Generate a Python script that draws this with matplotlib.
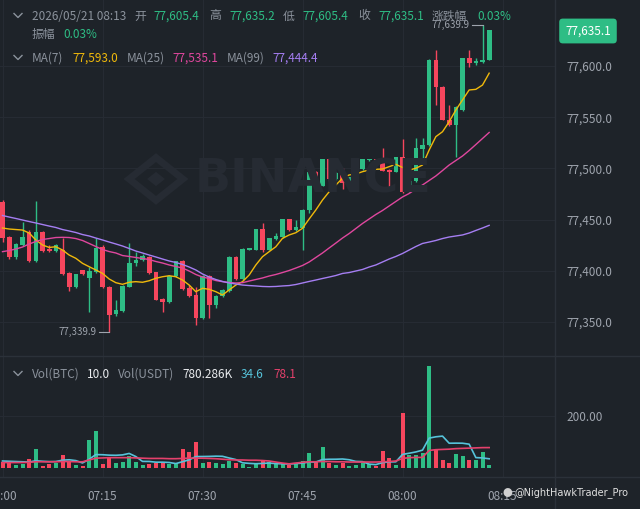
import numpy as np
import matplotlib.pyplot as plt
from matplotlib.lines import Line2D
from matplotlib.patches import RegularPolygon

plt.rcParams['font.family'] = ['Noto Sans CJK SC', 'DejaVu Sans']

# 1-minute candles, 07:00 .. 08:13
opens = [77467, 77433, 77413.5, 77425, 77438, 77410, 77438, 77421, 77419, 77420,
         77398, 77384, 77400.5, 77393, 77398.5, 77423.5, 77384, 77357.5, 77361, 77384.5,
         77408, 77411, 77413, 77398.5, 77372.5, 77370, 77395, 77409.6, 77383, 77376.4,
         77353.6, 77395, 77366.6, 77375, 77380, 77413, 77392, 77420.3, 77420.3, 77440.5,
         77420.3, 77431, 77433, 77450.3, 77439.8, 77441.5, 77459, 77496.8, 77483, 77509,
         77489.6, 77495.8, 77485.4, 77491, 77499, 77508, 77509, 77505, 77498.4, 77496.8,
         77510.8, 77477.2, 77487.7, 77518.7, 77522.9, 77605.9, 77579.8, 77547.3, 77542.4, 77557,
         77607.5, 77603.3, 77604, 77605.4]
highs = [77469, 77434, 77427, 77448, 77440, 77468, 77439, 77425, 77426, 77432,
         77399, 77397, 77401, 77404, 77432, 77425, 77385, 77371, 77386, 77427,
         77418, 77416, 77414, 77399, 77373, 77396, 77410, 77411, 77386, 77384.5,
         77396, 77396, 77376, 77382, 77414, 77414, 77422, 77422, 77441, 77447,
         77432, 77437, 77451, 77451, 77449.6, 77460, 77497.5, 77497, 77509.5, 77509.5,
         77496, 77500, 77491.5, 77500.5, 77509.5, 77509.5, 77509.5, 77519.6, 77499, 77511,
         77528.4, 77488, 77529.4, 77529.4, 77606.5, 77615.3, 77580.5, 77561.9, 77561, 77608,
         77615.6, 77607.5, 77639.9, 77635.2]
lows = [77428, 77412, 77412, 77424, 77409, 77409, 77418, 77418, 77418, 77396,
        77380, 77383, 77396, 77360, 77398, 77383, 77339.9, 77356, 77360, 77384,
        77405, 77410, 77397, 77371, 77359.5, 77369, 77394, 77381, 77374, 77347,
        77353, 77353.6, 77363.4, 77374, 77379, 77391, 77391, 77420, 77420, 77418.7,
        77420, 77430.5, 77432.5, 77439, 77439, 77420.3, 77456, 77482.5, 77482.5, 77488,
        77489, 77479.9, 77485, 77486, 77498.5, 77507.5, 77503.5, 77497, 77480.6, 77496,
        77476, 77476.5, 77487, 77508.2, 77522, 77561.9, 77547, 77541, 77511.4, 77556,
        77598.7, 77601, 77603, 77605.4]
closes = [77432, 77413, 77426, 77433, 77410, 77438, 77419, 77419, 77425, 77397,
          77384, 77397, 77397, 77400, 77422, 77384, 77357, 77362, 77385, 77408,
          77411, 77414, 77397.5, 77371.5, 77370, 77395, 77409.6, 77382, 77375.4, 77353.6,
          77395, 77366.6, 77375.4, 77381.3, 77413, 77392, 77421, 77421.8, 77440.5, 77420.3,
          77431.7, 77434, 77450.3, 77439.8, 77443, 77459.4, 77496.8, 77483, 77509, 77489.6,
          77495.8, 77485.4, 77491.3, 77500, 77509, 77509, 77504, 77497.8, 77496.8, 77510.8,
          77477.2, 77487.7, 77520.2, 77522.9, 77605.9, 77579.8, 77547.3, 77542.4, 77560.3, 77607.5,
          77602.6, 77604.9, 77605.4, 77635.1]

ma7 = [77441.8, 77440.8, 77440.3, 77439.8, 77436.9, 77430.1, 77425.2, 77422.8, 77423.5, 77420.3,
       77415.4, 77412.2, 77407.3, 77404.0, 77400.8, 77397.5, 77392.0, 77388.4, 77386.8, 77388.8,
       77389.4, 77388.8, 77390.3, 77392.7, 77394.2, 77395.2, 77394.2, 77391.0, 77386.1, 77379.6,
       77382.9, 77381.9, 77379.6, 77376.4, 77381.3, 77386.1, 77389.4, 77395.9, 77405.7, 77413.8,
       77418.7, 77423.5, 77431.7, 77435.0, 77437.2, 77441.5, 77450.6, 77459.4, 77469.1, 77477.2,
       77483.8, 77490.3, 77493.6, 77494.5, 77496.8, 77498.4, 77499.1, 77499.4, 77501.7, 77504.0,
       77500.9, 77498.4, 77500.1, 77503.3, 77518.0, 77531.0, 77535.8, 77545.6, 77557.0, 77566.8,
       77576.6, 77577.2, 77581.4, 77593.0]
ma25 = [77418.7, 77419.8, 77421.3, 77423.2, 77426.2, 77428.6, 77430.6, 77431.5, 77432.5, 77432.7,
        77432.5, 77431.5, 77429.6, 77426.7, 77423.7, 77420.8, 77418.8, 77417.4, 77414.9, 77414.0,
        77413.0, 77412.0, 77411.0, 77409.1, 77407.6, 77405.7, 77404.2, 77402.7, 77399.8, 77396.4,
        77393.9, 77392.5, 77390.5, 77389.4, 77388.6, 77388.1, 77388.4, 77390.0, 77391.5, 77393.0,
        77394.9, 77396.4, 77398.3, 77400.3, 77402.7, 77405.2, 77408.6, 77413.0, 77417.4, 77422.3,
        77427.1, 77432.0, 77436.4, 77441.3, 77446.2, 77450.6, 77455.0, 77458.9, 77463.3, 77467.7,
        77472.1, 77475.5, 77479.9, 77483.8, 77488.2, 77492.6, 77497.9, 77503.3, 77507.7, 77512.1,
        77517.5, 77523.3, 77529.2, 77535.1]
ma99 = [77454.0, 77452.5, 77451.1, 77449.6, 77448.1, 77446.7, 77445.2, 77443.7, 77442.3, 77440.3,
        77438.9, 77437.4, 77435.4, 77434.0, 77432.0, 77430.1, 77428.1, 77426.2, 77424.2, 77421.8,
        77419.3, 77417.4, 77415.4, 77413.5, 77411.5, 77409.6, 77408.1, 77406.2, 77403.7, 77400.8,
        77396.9, 77393.9, 77391.5, 77389.6, 77388.1, 77387.1, 77386.1, 77385.6, 77385.2, 77384.7,
        77384.5, 77384.7, 77385.2, 77385.6, 77386.6, 77388.1, 77389.6, 77391.0, 77392.5, 77393.9,
        77395.4, 77397.4, 77398.3, 77399.8, 77401.3, 77403.7, 77405.7, 77408.6, 77411.5, 77414.0,
        77416.9, 77420.3, 77423.7, 77426.7, 77428.1, 77429.6, 77431.5, 77433.0, 77434.0, 77435.0,
        77436.9, 77439.4, 77441.8, 77444.4]

volumes = [23, 17, 10.5, 13, 32.5, 71.5, 6.6, 14.4, 19.4, 48,
           23, 10.5, 6.6, 107.5, 142.5, 14.4, 36.5, 19.4, 22, 45.5,
           23, 10.5, 13, 17, 19.4, 13, 17, 72.7, 62, 101,
           19.4, 22, 19.4, 13, 27, 19.4, 13, 4, 13, 27,
           23, 13, 13, 9, 13, 27, 56, 23, 81.6, 20,
           10, 19, 7, 10, 17, 14, 7, 66, 36.5, 10,
           211, 49, 49, 56, 395, 69, 30, 17, 52, 47,
           30, 30, 60, 10]
vol_ma_fast = [26, 25, 24, 23, 22, 27, 24.9, 23.6, 24, 29.3,
               30.8, 27.6, 18.4, 32.8, 51, 50.4, 48.7, 48.2, 49.8, 55.4,
               43.3, 24.5, 24.3, 21.5, 21.5, 20.2, 16.1, 23.2, 30.6, 43.2,
               43.5, 43.9, 44.8, 44.2, 37.7, 31.6, 19, 16.8, 15.5, 16.6,
               18, 16, 15.1, 14.6, 15.9, 17.9, 22, 22, 31.8, 32.8,
               32.9, 33.8, 30.9, 24.4, 23.5, 13.9, 12, 20, 22.5, 22.9,
               51.6, 56.2, 61.2, 68.2, 115, 120, 122.7, 95, 95.4, 95.1,
               91.4, 39.3, 38, 34.6]
vol_ma_slow = [20, 20, 20, 20, 21, 23, 23, 23, 23, 24,
               24, 23, 23, 30, 37, 38, 39, 39, 39, 39,
               38, 37, 36, 36, 36, 35, 35, 36, 37, 37,
               37, 36, 35, 33, 31, 30, 30, 29, 29, 28,
               26, 22, 18, 15, 18, 21, 23, 23, 24, 24,
               23, 23, 22, 22, 22, 22, 22, 23, 24, 26,
               36, 39, 40, 40, 67, 70, 71, 72, 74, 75,
               76, 77, 78, 78.1]

time_ticks = [0, 15, 30, 45, 60, 75]
time_labels = ['07:00', '07:15', '07:30', '07:45', '08:00', '08:15']
price_ticks = [77350, 77400, 77450, 77500, 77550, 77600]
vol_ticks = [200]

BG = '#1e2329'
GRID = '#262b33'
SEP = '#2b3139'
TXT = '#8b929c'
AXT = '#9ea4ad'
UP = '#2ebd85'
DOWN = '#f6465d'
C_MA7 = '#f0b90b'
C_MA25 = '#e0479e'
C_MA99 = '#a57ef2'
C_VF = '#56c3da'
C_VS = '#e5416c'

W, H = 640, 509


def fx(px):
    return px / W


def fy(py):
    return 1 - py / H


fig = plt.figure(figsize=(6.4, 5.09), dpi=100, facecolor=BG)
ax = fig.add_axes([0, fy(356), fx(555), 356 / H])
axv = fig.add_axes([0, fy(477), fx(555), (477 - 356) / H])

x = np.arange(len(opens))
o = np.array(opens)
c = np.array(closes)
cols = np.where(c >= o, UP, DOWN)

for a in (ax, axv):
    a.set_facecolor(BG)
    for s in a.spines.values():
        s.set_visible(False)
    a.set_xlim(-0.375, 82.875)
    a.set_xticks(time_ticks)
    a.grid(True, color=GRID, linewidth=0.8)
    a.set_axisbelow(True)
    a.yaxis.tick_right()
    a.tick_params(length=0, colors=AXT, labelsize=8.5)

# watermark
fig.text(fx(313), fy(180), 'BINANCE', color='#262b33', fontsize=34,
         fontweight='bold', family='DejaVu Sans', ha='center', va='center', zorder=0)
fig.patches.append(RegularPolygon((fx(156), fy(179)), 4, radius=0.042, orientation=0,
                                  transform=fig.transFigure, fill=False, ec='#262b33',
                                  lw=5, zorder=0))
fig.patches.append(RegularPolygon((fx(156), fy(179)), 4, radius=0.014, orientation=0,
                                  transform=fig.transFigure, fc='#262b33', ec='none', zorder=0))

# candles
ax.vlines(x, lows, highs, colors=cols, linewidth=1, zorder=2)
ax.bar(x, np.maximum(np.abs(c - o), 1.0), bottom=np.minimum(o, c), width=0.7,
       color=cols, linewidth=0, zorder=3)
ax.plot(x, ma7, color=C_MA7, lw=1, zorder=4)
ax.plot(x, ma25, color=C_MA25, lw=1, zorder=4)
ax.plot(x, ma99, color=C_MA99, lw=1, zorder=4)
ax.set_ylim(77316.8, 77664.45)
ax.set_yticks(price_ticks)
ax.set_yticklabels([f'{v:,.1f}' for v in price_ticks])
ax.tick_params(axis='y', pad=8)
ax.tick_params(axis='x', labelbottom=False)

# high / low markers
hi_i = int(np.argmax(highs))
lo_i = int(np.argmin(lows))
ax.plot([hi_i - 1.6, hi_i], [highs[hi_i]] * 2, color=AXT, lw=0.8)
ax.text(hi_i - 1.9, highs[hi_i], f'{highs[hi_i]:,.1f}', color=AXT, fontsize=7,
        ha='right', va='center')
ax.plot([lo_i - 1.6, lo_i], [lows[lo_i]] * 2, color=AXT, lw=0.8)
ax.text(lo_i - 1.9, lows[lo_i], f'{lows[lo_i]:,.1f}', color=AXT, fontsize=7,
        ha='right', va='center')

# volume
axv.bar(x, volumes, width=0.6, color=cols, linewidth=0, zorder=2)
axv.plot(x, vol_ma_fast, color=C_VF, lw=1.2, zorder=3)
axv.plot(x, vol_ma_slow, color=C_VS, lw=1.2, zorder=3)
axv.set_ylim(-36.1, 433.8)
axv.set_yticks(vol_ticks)
axv.set_yticklabels([f'{v:.2f}' for v in vol_ticks])
axv.tick_params(axis='y', pad=8)
axv.set_xticklabels(time_labels)
axv.tick_params(axis='x', pad=9)

# separators
for yy in (356, 477):
    fig.add_artist(Line2D([0, 1], [fy(yy), fy(yy)], color=SEP, lw=1))
fig.add_artist(Line2D([fx(555), fx(555)], [0, 1], color=SEP, lw=1))


# header rows
def row(y, parts):
    for px, s, col in parts:
        fig.text(fx(px), fy(y), s, color=col, fontsize=8.5, va='center', ha='left')


def chevron(y):
    fig.add_artist(Line2D([fx(14), fx(18), fx(22)], [fy(y - 2.5), fy(y + 1.5), fy(y - 2.5)],
                          color=TXT, lw=1))


chevron(16)
row(16, [(32, '2026/05/21 08:13', TXT), (134, '开', TXT), (153, f'{opens[-1]:,.1f}', UP),
         (209, '高', TXT), (229, f'{highs[-1]:,.1f}', UP), (283, '低', TXT),
         (302, f'{lows[-1]:,.1f}', UP), (358, '收', TXT), (378, f'{closes[-1]:,.1f}', UP),
         (432, '涨跌幅', TXT), (477, '0.03%', UP)])
row(34, [(32, '振幅', TXT), (63, '0.03%', UP)])
chevron(58)
row(58, [(32, 'MA(7)', TXT), (72, f'{ma7[-1]:,.1f}', C_MA7), (127, 'MA(25)', TXT),
         (172, f'{ma25[-1]:,.1f}', C_MA25), (227, 'MA(99)', TXT),
         (272, f'{ma99[-1]:,.1f}', C_MA99)])
chevron(374)
row(374, [(32, 'Vol(BTC)', TXT), (87, f'{volumes[-1]:.1f}', '#eaecef'), (118, 'Vol(USDT)', TXT),
          (182, '780.286K', '#eaecef'), (241, f'{vol_ma_fast[-1]:.1f}', C_VF),
          (273, f'{vol_ma_slow[-1]:.1f}', C_VS)])

# last price tag
fig.text(fx(588), fy(31), f'{closes[-1]:,.1f}', color='white', fontsize=8.5,
         ha='center', va='center',
         bbox=dict(boxstyle='round,pad=0.5,rounding_size=0.3', fc=UP, ec='none'))

# corner watermark
fig.text(fx(507), fy(493), '●', color='#d0d0d0', fontsize=7, ha='center', va='center')
fig.text(fx(514), fy(493), '@NightHawkTrader_Pro', color='#e0e0e0', fontsize=7,
         ha='left', va='center', family='DejaVu Sans')

fig.savefig('out.png', dpi=100, facecolor=BG)
